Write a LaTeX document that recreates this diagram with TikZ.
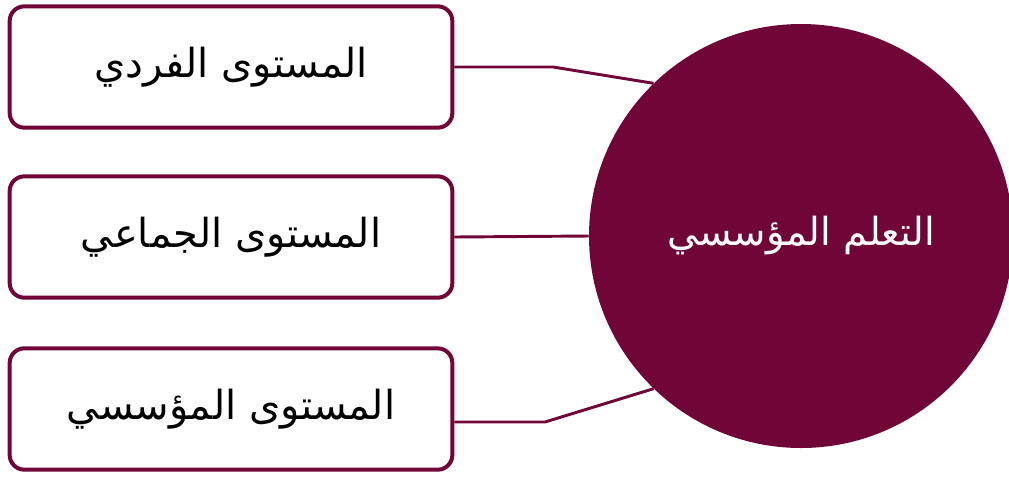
\documentclass[tikz,border=0pt]{standalone}
\usepackage{fontspec}
\newfontfamily\arabicfont[Script=Arabic]{DejaVu Sans}
\TeXXeTstate=1
\definecolor{wine}{RGB}{112,5,56}
\begin{document}
\begin{tikzpicture}[x=0.75pt,y=-0.75pt]
			\tikzstyle{lvl}=[rectangle,rounded corners=11pt,draw=wine,line width=3pt,fill=white,minimum width=332pt,minimum height=91pt,font=\arabicfont\fontsize{30}{34}\selectfont]
			\tikzstyle{hubnode}=[circle,fill=wine,minimum size=318pt,text=white,font=\arabicfont\fontsize{29}{34}\selectfont]
			\tikzstyle{link}=[draw=wine,line width=2.2pt]
			\useasboundingbox (0,0) rectangle (1009,476);
			\begin{scope}
			\node[lvl] (fard)  at (231,67)  {\beginR المستوى الفردي\endR};
			\node[lvl] (jama)  at (231,237) {\beginR المستوى الجماعي\endR};
			\node[lvl] (muas)  at (231,409) {\beginR المستوى المؤسسي\endR};
			\node[hubnode] (hub) at (801,236) {\beginR التعلم المؤسسي\endR};
			\end{scope}

			\coordinate (k1) at (553,67);
			\coordinate (k3) at (545,422);

			\draw[link] (fard.east) -- (k1) -- (hub.134);
			\draw[link] (jama.east) -- (hub.west);
			\draw[link] (muas.east |- k3) -- (k3) -- (hub.226);
		\end{tikzpicture}
\end{document}
